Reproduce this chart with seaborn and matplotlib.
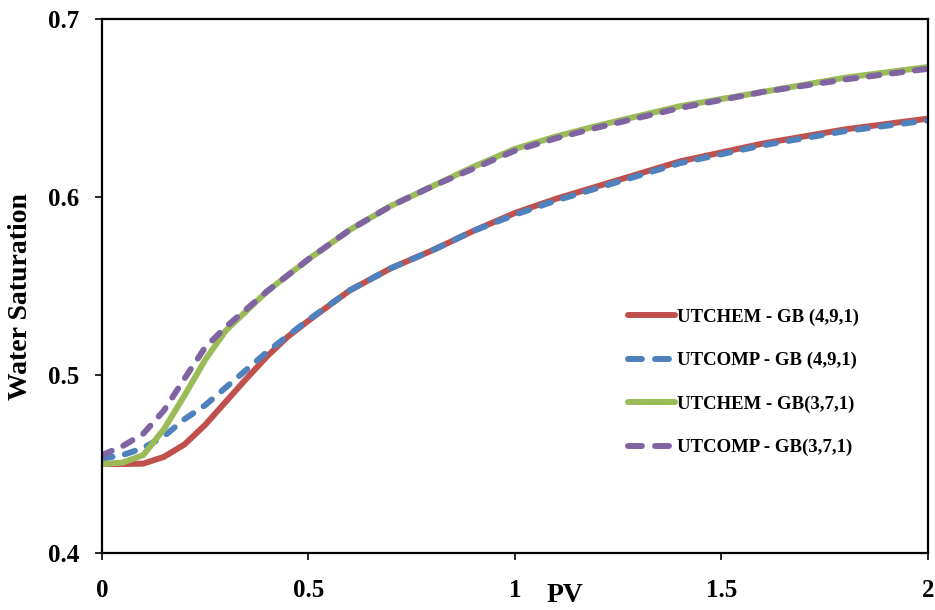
import matplotlib
matplotlib.use("Agg")
import matplotlib.pyplot as plt
import pandas as pd
import seaborn as sns

# Pore volumes injected
pv = [0.0, 0.05, 0.1, 0.15, 0.2, 0.25, 0.3, 0.35, 0.4, 0.45, 0.5, 0.6, 0.7,
      0.8, 0.9, 1.0, 1.1, 1.2, 1.4, 1.6, 1.8, 2.0]

# Water saturation
utchem_491 = [0.450, 0.450, 0.4502, 0.454, 0.461, 0.472, 0.485, 0.498, 0.5105, 0.5215,
              0.5305, 0.5475, 0.560, 0.570, 0.581, 0.591, 0.599, 0.606, 0.620, 0.630,
              0.638, 0.644]
utcomp_491 = [0.453, 0.455, 0.459, 0.4655, 0.4752, 0.483, 0.493, 0.503, 0.513, 0.522,
              0.531, 0.5475, 0.560, 0.570, 0.581, 0.590, 0.598, 0.605, 0.619, 0.629,
              0.637, 0.643]
utchem_371 = [0.450, 0.4508, 0.455, 0.4695, 0.4885, 0.5085, 0.525, 0.536, 0.547, 0.556,
              0.565, 0.5815, 0.595, 0.606, 0.617, 0.627, 0.634, 0.640, 0.651, 0.659,
              0.667, 0.673]
utcomp_371 = [0.455, 0.460, 0.467, 0.480, 0.498, 0.5155, 0.527, 0.537, 0.547, 0.556,
              0.565, 0.5815, 0.595, 0.606, 0.616, 0.626, 0.633, 0.639, 0.650, 0.659,
              0.666, 0.672]

labels = ["UTCHEM - GB (4,9,1)", "UTCOMP - GB (4,9,1)",
          "UTCHEM - GB(3,7,1)", "UTCOMP - GB(3,7,1)"]
colors = ["#C0504D", "#4F81BD", "#9BBB59", "#8064A2"]
dashed = [False, True, False, True]

sns.set_theme(style="white")
plt.rcParams["font.family"] = ["Liberation Serif", "DejaVu Serif"]
plt.rcParams["font.weight"] = "bold"

fig = plt.figure(figsize=(9.35, 6.1), dpi=100)
ax = fig.add_axes([0.109, 0.0934, 0.8835, 0.8756])

series = [utchem_491, utcomp_491, utchem_371, utcomp_371]
for vals, lab, col, dsh in zip(series, labels, colors, dashed):
    df = pd.DataFrame({"PV": pv, "Sw": vals})
    sns.lineplot(data=df, x="PV", y="Sw", ax=ax, color=col, linewidth=4.3,
                 label=lab, solid_capstyle="round", dash_capstyle="round")
    if dsh:
        ax.lines[-1].set_dashes([1.8, 2.1])

ax.set_xlim(0, 2)
ax.set_ylim(0.4, 0.7)
ax.set_xticks([0, 0.5, 1, 1.5, 2])
ax.set_xticklabels(["0", "0.5", "1", "1.5", "2"])
ax.set_yticks([0.4, 0.5, 0.6, 0.7])
ax.set_yticklabels(["0.4", "0.5", "0.6", "0.7"])
ax.tick_params(axis="both", direction="out", length=5, width=1.2, color="black",
               labelsize=18, labelcolor="black", bottom=True, left=True)
ax.tick_params(axis="x", pad=14)
ax.tick_params(axis="y", pad=11)
for sp in ax.spines.values():
    sp.set_color("black")
    sp.set_linewidth(1.6)

ax.set_xlabel("PV", fontsize=20, fontweight="bold", color="black")
ax.xaxis.set_label_coords(0.56, -0.056)
ax.set_ylabel("Water Saturation", fontsize=20, fontweight="bold", color="black")
ax.yaxis.set_label_coords(-0.084, 0.481)

leg = ax.legend(loc="upper left", bbox_to_anchor=(0.628, 0.472), frameon=False,
                fontsize=13.5, handlelength=2.5, handletextpad=0.1,
                labelspacing=1.4, borderaxespad=0)
for t in leg.get_texts():
    t.set_fontweight("bold")
    t.set_color("black")
# two even dashes in the legend handles, like the original
for h, dsh in zip(leg.get_lines(), dashed):
    if dsh:
        h.set_dashes([2.33, 2.2])

fig.savefig("out.png", dpi=100)
